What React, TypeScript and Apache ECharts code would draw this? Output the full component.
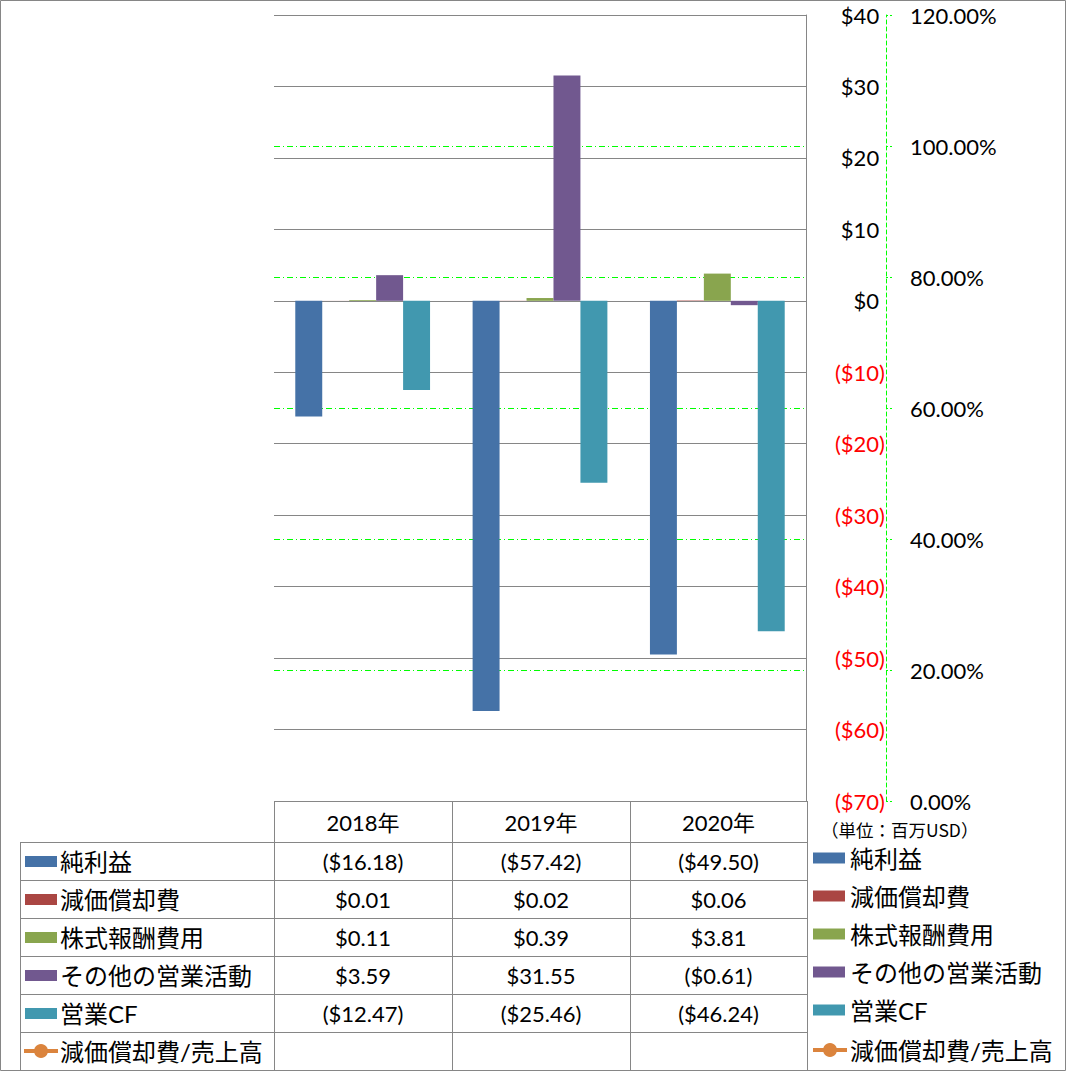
import React, { useEffect, useRef } from "react";
import * as echarts from "echarts";

const categories = ["2018年", "2019年", "2020年"];
const seriesNames = ["純利益", "減価償却費", "株式報酬費用", "その他の営業活動", "営業CF", "減価償却費/売上高"];
const netIncome = [-16.18, -57.42, -49.5];
const depreciation = [0.01, 0.02, 0.06];
const stockComp = [0.11, 0.39, 3.81];
const otherOps = [3.59, 31.55, -0.61];
const operatingCF = [-12.47, -25.46, -46.24];
const depRatio: (number | null)[] = [null, null, null];
const colors = ["#4572A7", "#AA4643", "#89A54E", "#71588F", "#4198AF", "#DB843D"];
const unitLabel = "（単位：百万USD）";

const FONT = 'Lato, "Noto Sans CJK JP", sans-serif';
const GRID = "#868686";
const GREEN = "#00ff00";
const NUM_SIZE = 22;
const JP_SIZE = 24;

const fmt = (v: number) => (v < 0 ? `($${Math.abs(v).toFixed(2)})` : `$${v.toFixed(2)}`);

export default function App() {
  const ref = useRef<HTMLDivElement>(null);
  useEffect(() => {
    document.body.style.margin = "0";
    const chart = echarts.init(ref.current!, null, { renderer: "svg" });
    const barData = [netIncome, depreciation, stockComp, otherOps, operatingCF];

    const gl = 274, gt = 15, gw = 532, gh = 786;
    const colX = [274, 452, 630, 807];
    const rowY = [842, 880, 918, 956, 994, 1032, 1070];
    const graphic: any[] = [];
    const line = (x1: number, y1: number, x2: number, y2: number) =>
      graphic.push({ type: "line", shape: { x1, y1, x2, y2 }, style: { stroke: GRID, lineWidth: 1 }, z: 100 });

    // table lines
    line(274, 801.5, 807, 801.5);
    rowY.slice(0, 6).forEach((y) => line(20.5, y + 0.5, 807, y + 0.5));
    colX.forEach((x) => line(x + 0.5, 801, x + 0.5, 1070));
    line(20.5, 842, 20.5, 1070);
    // outer border
    graphic.push({ type: "rect", shape: { x: 0.5, y: 0.5, width: 1065, height: 1070 }, style: { fill: "none", stroke: GRID, lineWidth: 1 }, z: 100 });

    const lineKey = (x: number, cy: number) => {
      graphic.push({ type: "line", shape: { x1: x, y1: cy, x2: x + 34, y2: cy }, style: { stroke: colors[5], lineWidth: 4 }, z: 100 });
      graphic.push({ type: "circle", shape: { cx: x + 17, cy, r: 7 }, style: { fill: colors[5] }, z: 101 });
    };

    // header
    categories.forEach((c, i) => {
      graphic.push({ type: "text", x: (colX[i] + colX[i + 1]) / 2, y: 822, style: { text: c, font: `${NUM_SIZE}px ${FONT}`, fill: "#000", align: "center", verticalAlign: "middle" }, z: 100 });
    });
    // rows
    seriesNames.forEach((name, r) => {
      const cy = (rowY[r] + rowY[r + 1]) / 2;
      if (r < 5) {
        graphic.push({ type: "rect", shape: { x: 25, y: cy - 5, width: 32, height: 11 }, style: { fill: colors[r] }, z: 100 });
        barData[r].forEach((v, i) => {
          graphic.push({ type: "text", x: (colX[i] + colX[i + 1]) / 2, y: cy, style: { text: fmt(v), font: `${NUM_SIZE}px ${FONT}`, fill: "#000", align: "center", verticalAlign: "middle" }, z: 100 });
        });
      } else {
        lineKey(24, cy);
        // right-side legend entry for the line series
        lineKey(813, cy - 1);
        graphic.push({ type: "text", x: 850, y: cy - 1, style: { text: name, font: `${JP_SIZE}px ${FONT}`, fill: "#000", align: "left", verticalAlign: "middle" }, z: 100 });
      }
      graphic.push({ type: "text", x: 60, y: cy, style: { text: name, font: `${JP_SIZE}px ${FONT}`, fill: "#000", align: "left", verticalAlign: "middle" }, z: 100 });
    });
    graphic.push({ type: "text", x: 821, y: 829, style: { text: unitLabel, font: `17.5px "Noto Sans CJK JP", sans-serif`, fill: "#000", align: "left", verticalAlign: "middle" }, z: 100 });

    const series: any[] = barData.map((d, i) => ({
      name: seriesNames[i],
      type: "bar",
      data: d,
      yAxisIndex: 0,
      barGap: "0%",
      barCategoryGap: "24%",
      itemStyle: { color: colors[i] },
    }));
    series.push({
      name: seriesNames[5],
      type: "line",
      data: depRatio,
      yAxisIndex: 1,
      symbol: "circle",
      symbolSize: 12,
      lineStyle: { color: colors[5], width: 4 },
      itemStyle: { color: colors[5] },
    });

    chart.setOption({
      animation: false,
      textStyle: { fontFamily: FONT },
      grid: { left: gl, top: gt, width: gw, height: gh },
      legend: {
        orient: "vertical",
        left: 813,
        top: 846,
        padding: 0,
        itemWidth: 32,
        itemHeight: 11,
        itemGap: 14,
        icon: "rect",
        data: seriesNames.slice(0, 5),
        textStyle: { fontSize: JP_SIZE, fontFamily: FONT, color: "#000", lineHeight: 24 },
        selectedMode: false,
      },
      xAxis: {
        type: "category",
        data: categories,
        axisLine: { show: false },
        axisTick: { show: false },
        axisLabel: { show: false },
        splitLine: { show: false },
      },
      yAxis: [
        {
          type: "value",
          position: "right",
          min: -70,
          max: 40,
          interval: 10,
          axisLine: { show: true, lineStyle: { color: GRID } },
          axisTick: { show: false },
          splitLine: { show: true, lineStyle: { color: GRID, width: 1 } },
          axisLabel: {
            fontSize: NUM_SIZE,
            fontFamily: FONT,
            align: "right",
            margin: 79,
            formatter: (v: number) => (v < 0 ? `{r|($${Math.abs(v)})}` : `{n|$${v}}{h|)}`),
            rich: {
              r: { color: "#ff0000", fontSize: NUM_SIZE, fontFamily: FONT },
              n: { color: "#000000", fontSize: NUM_SIZE, fontFamily: FONT },
              h: { color: "rgba(0,0,0,0)", fontSize: NUM_SIZE, fontFamily: FONT },
            },
          },
          z: 1,
        },
        {
          type: "value",
          position: "right",
          offset: 80,
          min: 0,
          max: 1.2,
          interval: 0.2,
          axisLine: { show: true, lineStyle: { color: GREEN, type: [4, 3] } },
          axisTick: { show: true, length: 8, lineStyle: { color: GREEN, type: [2, 2] } },
          splitLine: { show: true, lineStyle: { color: GREEN, type: [6, 3, 1, 3], width: 1 } },
          axisLabel: {
            fontSize: NUM_SIZE,
            fontFamily: FONT,
            color: "#000",
            margin: 24,
            formatter: (v: number) => `${(v * 100).toFixed(2)}%`,
          },
        },
      ],
      series,
      graphic,
    });
    return () => chart.dispose();
  }, []);
  return <div ref={ref} style={{ width: 1066, height: 1071 }} />;
}
